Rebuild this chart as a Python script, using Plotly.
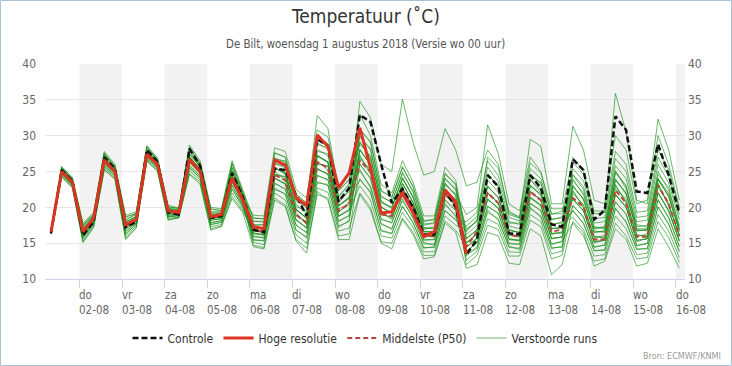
import pandas as pd
import plotly.graph_objects as go

# ---------------- data ----------------
times = pd.date_range("2018-08-01 08:00", periods=60, freq="6h")

controle = [16.4, 25.2, 23.7, 16.1, 18.0, 27.0, 25.4, 17.2, 18.0, 28.0, 26.3, 19.3, 19.0, 28.2, 25.8, 18.5, 18.8, 24.8, 21.5,
            16.9, 16.5, 25.4, 25.2, 21.7, 18.8, 29.5, 28.6, 20.8, 22.7,
            32.9, 31.9, 26.0, 20.6, 22.6, 20.0, 16.2, 16.2, 22.3, 20.0,
            13.4, 15.5, 24.5, 22.9, 16.4, 16.2, 24.5, 22.7, 17.6, 17.3,
            26.7, 25.2, 18.3, 19.6, 32.7, 30.8, 22.2, 22.0, 28.8, 24.5, 19.2]

hoge_resolutie = [16.6, 25.0, 23.5, 16.6, 18.5, 26.6, 25.0, 17.6, 18.3, 27.4, 26.0, 19.5, 19.3, 26.7, 25.0, 18.7, 19.0, 24.1, 21.0,
                  17.3, 17.0, 26.6, 25.9, 21.3, 20.3, 30.1, 28.5, 22.7, 24.8,
                  31.1, 25.5, 19.2, 19.4, 22.0, 19.2, 15.9, 16.6, 22.4, 20.8, 13.5]

middelste = [16.5, 25.0, 23.5, 16.5, 18.3, 26.3, 25.0, 17.3, 18.3, 27.3, 26.0, 19.5, 19.3, 26.5, 25.0, 18.5, 18.8, 23.8, 21.0,
             16.8, 16.6, 24.5, 23.8, 19.0, 17.8, 26.3, 25.5, 19.5, 20.5,
             26.5, 25.0, 19.0, 18.8, 22.5, 20.0, 16.0, 16.0, 21.8, 20.5,
             14.5, 16.6, 22.0, 20.6, 16.2, 15.9, 22.2, 21.0, 16.6, 16.9,
             21.3, 20.1, 15.5, 15.5, 22.4, 20.6, 15.9, 15.9, 23.1, 20.5, 16.0]

verstoorde_runs = [
    [16.5, 25.1, 23.4, 16.6, 18.2, 26.6, 25.1, 17.4, 18.2, 27.6, 26.0, 19.4, 19.1, 26.9, 25.2, 18.4, 18.7, 24.3, 21.1,
     18.1, 17.9, 26.9, 26.3, 21.1, 19.9, 29.0, 28.1, 21.6, 23.1,
     25.0, 23.0, 17.6, 17.1, 20.9, 18.6, 14.9, 14.9, 20.3, 18.9,
     15.6, 16.9, 22.9, 21.4, 16.8, 16.5, 23.0, 21.8, 17.0, 17.2,
     19.5, 17.8, 13.9, 14.1, 19.8, 18.0, 14.1, 14.3, 20.0, 17.7, 13.8],
    [16.4, 24.7, 23.2, 16.0, 17.9, 26.0, 24.6, 16.7, 17.9, 27.1, 25.6, 18.9, 18.9, 25.9, 24.4, 17.9, 18.1, 23.0, 20.4,
     15.5, 15.3, 22.7, 21.8, 16.9, 15.7, 23.6, 23.0, 17.4, 18.0,
     28.0, 26.0, 20.0, 19.2, 23.3, 20.7, 16.6, 16.6, 22.6, 21.0,
     14.4, 15.7, 21.1, 19.9, 15.6, 15.4, 21.4, 20.3, 15.6, 15.9,
     23.7, 22.0, 17.1, 17.3, 24.8, 23.0, 17.3, 17.5, 25.0, 22.4, 17.5],
    [16.6, 25.3, 23.8, 17.0, 18.7, 27.0, 25.4, 17.9, 18.7, 27.9, 26.4, 19.7, 19.5, 27.5, 25.6, 19.1, 19.1, 25.0, 21.6,
     16.9, 16.4, 25.0, 23.8, 19.3, 17.6, 26.5, 25.2, 19.8, 20.3,
     31.0, 29.0, 22.4, 21.3, 25.7, 22.8, 18.2, 18.2, 24.8, 23.1,
     13.2, 14.5, 19.3, 18.4, 14.4, 14.3, 19.8, 18.8, 14.2, 14.6,
     22.2, 20.1, 15.9, 15.8, 23.0, 20.8, 16.1, 16.0, 23.2, 20.3, 16.1],
    [16.3, 24.4, 22.9, 15.5, 17.5, 25.5, 24.2, 16.0, 17.4, 26.6, 25.3, 18.5, 18.6, 25.1, 23.8, 17.3, 17.6, 22.0, 19.8,
     16.4, 16.2, 24.1, 23.2, 18.3, 17.1, 25.4, 24.6, 18.8, 19.6,
     23.0, 21.0, 16.0, 15.7, 19.3, 17.2, 13.8, 13.8, 18.8, 17.5,
     16.8, 18.1, 24.7, 22.9, 18.0, 17.6, 24.6, 23.3, 18.4, 18.5,
     21.2, 19.5, 15.2, 15.4, 21.8, 20.0, 15.4, 15.6, 22.0, 19.6, 15.3],
    [16.7, 25.6, 24.1, 17.5, 19.1, 27.5, 25.8, 18.6, 19.2, 28.4, 26.7, 20.1, 19.8, 28.3, 26.2, 19.7, 19.6, 26.0, 22.2,
     17.2, 17.0, 25.5, 24.8, 19.7, 18.5, 27.2, 26.4, 20.2, 21.4,
     27.3, 24.6, 19.0, 18.7, 22.2, 20.2, 15.8, 16.2, 21.6, 20.5,
     13.8, 15.1, 20.2, 19.1, 15.0, 14.8, 20.6, 19.5, 14.9, 15.2,
     25.4, 23.7, 18.4, 18.6, 26.8, 25.0, 18.6, 18.8, 27.0, 24.3, 19.0],
    [16.5, 24.9, 23.3, 16.2, 18.1, 26.2, 24.8, 17.0, 18.1, 27.3, 25.8, 19.1, 19.1, 26.3, 24.7, 18.2, 18.4, 23.5, 20.7,
     14.7, 14.4, 21.3, 20.3, 15.5, 14.3, 21.8, 21.3, 16.0, 16.3,
     26.0, 24.0, 18.4, 17.8, 21.7, 19.3, 15.5, 15.5, 21.0, 19.6,
     15.1, 16.2, 22.1, 20.5, 16.3, 15.8, 22.3, 20.9, 16.4, 16.4,
     20.3, 18.6, 14.5, 14.7, 20.8, 19.0, 14.7, 14.9, 21.0, 18.6, 14.5],
    [16.5, 25.1, 23.6, 16.8, 18.5, 26.8, 25.2, 17.6, 18.5, 27.7, 26.2, 19.5, 19.3, 27.1, 25.3, 18.8, 18.8, 24.5, 21.3,
     18.9, 18.8, 28.3, 27.8, 22.5, 21.3, 30.8, 29.8, 23.0, 24.8,
     29.0, 27.0, 20.8, 19.9, 24.1, 21.4, 17.1, 17.1, 23.3, 21.7,
     12.6, 13.9, 18.4, 17.6, 13.8, 13.7, 19.0, 18.0, 13.5, 13.9,
     22.9, 21.2, 16.5, 16.7, 23.8, 22.0, 16.7, 16.9, 24.0, 21.5, 16.8],
    [16.4, 24.6, 23.1, 15.7, 17.7, 25.7, 24.4, 16.3, 17.6, 26.8, 25.5, 18.7, 18.8, 25.5, 24.1, 17.6, 17.9, 22.5, 20.1,
     16.0, 15.7, 23.4, 22.5, 17.6, 16.4, 24.5, 23.8, 18.1, 18.8,
     24.0, 22.0, 16.8, 16.4, 20.1, 17.9, 14.4, 14.4, 19.6, 18.2,
     17.4, 18.7, 25.6, 23.6, 18.6, 18.1, 25.4, 24.0, 19.1, 19.1,
     24.6, 22.9, 17.8, 18.0, 25.8, 24.0, 18.0, 18.2, 26.0, 23.4, 18.3],
    [16.7, 25.4, 23.9, 17.3, 18.9, 27.3, 25.6, 18.3, 19.0, 28.2, 26.5, 19.9, 19.6, 27.9, 25.9, 19.4, 19.3, 25.5, 21.9,
     17.6, 17.5, 26.2, 25.5, 20.4, 19.2, 28.1, 27.2, 20.9, 22.2,
     30.0, 28.0, 21.6, 20.6, 24.9, 22.1, 17.7, 17.7, 24.1, 22.4,
     16.2, 17.5, 23.8, 22.1, 17.4, 17.0, 23.8, 22.5, 17.7, 17.8,
     18.6, 16.9, 13.2, 13.4, 18.8, 17.0, 13.4, 13.6, 19.0, 16.7, 13.0],
    [16.4, 24.9, 23.6, 16.4, 18.4, 26.4, 24.9, 17.2, 18.4, 27.4, 26.1, 19.2, 19.3, 26.6, 24.9, 18.6, 18.5, 24.1, 20.9,
     15.1, 14.8, 22.0, 21.0, 16.2, 15.0, 22.7, 22.1, 16.7, 17.1,
     22.0, 20.0, 15.2, 15.0, 18.5, 16.5, 13.3, 13.3, 18.1, 16.8,
     14.5, 15.6, 21.2, 19.8, 15.5, 15.3, 21.3, 20.2, 15.7, 15.8,
     21.9, 20.4, 15.7, 16.1, 22.6, 21.2, 15.9, 16.3, 22.8, 20.6, 15.9],
    [16.3, 24.3, 22.8, 15.2, 17.3, 25.2, 24.0, 15.7, 17.2, 26.4, 25.1, 18.3, 18.5, 24.7, 23.5, 17.0, 17.4, 21.5, 19.5,
     16.7, 16.7, 24.6, 24.2, 18.8, 18.0, 26.1, 25.7, 19.3, 20.7,
     28.1, 25.9, 20.1, 19.1, 23.4, 20.6, 16.6, 16.5, 22.5, 21.1,
     12.0, 13.3, 17.5, 16.9, 13.2, 13.2, 18.2, 17.3, 12.8, 13.3,
     20.2, 18.7, 14.4, 14.8, 20.7, 19.1, 14.6, 15.0, 21.1, 18.5, 14.6],
    [16.8, 25.7, 24.2, 17.8, 19.3, 27.8, 26.0, 18.9, 19.4, 28.6, 26.9, 20.3, 19.9, 28.7, 26.5, 20.0, 19.8, 26.5, 22.5,
     18.5, 18.4, 27.6, 27.0, 21.8, 20.6, 32.8, 31.0, 22.3, 23.9,
     33.0, 30.0, 23.2, 22.0, 26.5, 23.5, 18.8, 18.8, 25.6, 23.8,
     15.6, 16.9, 22.9, 21.4, 16.8, 16.5, 23.0, 21.8, 17.0, 17.2,
     24.0, 21.7, 17.3, 17.0, 25.1, 22.6, 17.6, 17.2, 24.6, 22.8, 17.2],
    [16.4, 24.8, 23.2, 16.1, 17.9, 26.1, 24.7, 16.6, 17.8, 27.0, 25.7, 18.9, 19.0, 25.8, 24.3, 17.8, 18.2, 23.1, 20.3,
     17.3, 17.1, 25.4, 24.9, 19.6, 18.6, 27.1, 26.3, 20.1, 21.5,
     23.8, 22.2, 16.7, 16.3, 20.2, 17.8, 14.3, 14.5, 19.5, 18.3,
     18.0, 19.3, 26.5, 24.4, 19.2, 18.7, 26.2, 24.8, 19.8, 19.8,
     21.0, 19.6, 15.0, 15.5, 21.7, 20.1, 15.2, 15.7, 22.1, 19.4, 15.4],
    [16.6, 25.2, 23.6, 16.7, 18.6, 26.7, 25.2, 17.7, 18.6, 27.7, 26.2, 19.5, 19.4, 27.0, 25.4, 18.8, 18.9, 24.4, 21.4,
     15.9, 15.8, 23.3, 22.6, 17.5, 16.5, 24.4, 23.9, 18.0, 18.9,
     26.8, 25.3, 19.3, 18.3, 22.6, 19.8, 16.1, 15.8, 22.0, 20.1,
     13.9, 15.0, 20.1, 19.2, 14.9, 14.9, 20.5, 19.6, 14.8, 15.3,
     17.8, 16.0, 12.5, 12.8, 17.8, 16.0, 12.8, 13.0, 18.0, 15.8, 12.3],
    [16.6, 25.2, 23.8, 17.0, 18.7, 27.0, 25.3, 17.9, 18.8, 27.9, 26.3, 19.8, 19.4, 27.5, 25.7, 19.0, 19.1, 25.1, 21.5,
     16.3, 16.1, 24.0, 23.3, 18.2, 17.2, 25.3, 24.7, 18.7, 19.7,
     26.0, 24.1, 18.3, 17.9, 21.6, 19.4, 15.4, 15.5, 21.1, 19.5,
     15.0, 16.4, 21.9, 20.7, 16.1, 16.0, 22.1, 21.1, 16.2, 16.6,
     26.3, 24.6, 19.1, 19.3, 27.8, 26.0, 19.3, 19.5, 28.0, 25.3, 19.8],
    [16.4, 24.8, 23.4, 16.3, 18.1, 26.3, 24.8, 17.0, 18.1, 27.3, 25.8, 19.1, 19.0, 26.3, 24.7, 18.2, 18.4, 23.5, 20.7,
     17.5, 17.6, 26.0, 25.8, 20.1, 19.5, 27.8, 27.5, 20.6, 22.5,
     25.3, 22.7, 17.8, 16.9, 21.2, 18.4, 15.1, 14.7, 20.6, 18.7,
     13.4, 14.3, 19.6, 18.2, 14.6, 14.1, 20.0, 18.6, 14.4, 14.4,
     23.1, 21.0, 16.7, 16.5, 24.0, 21.8, 16.9, 16.7, 23.8, 21.7, 16.6],
    [16.3, 24.6, 23.1, 15.8, 17.7, 25.8, 24.4, 16.3, 17.7, 26.8, 25.5, 18.7, 18.8, 25.5, 24.1, 17.6, 17.9, 22.6, 20.1,
     16.6, 16.8, 24.6, 24.3, 18.9, 17.9, 26.0, 25.8, 19.3, 20.7,
     29.2, 26.8, 20.9, 19.8, 24.2, 21.3, 17.2, 17.0, 23.4, 21.6,
     15.7, 16.8, 23.0, 21.3, 16.9, 16.4, 23.1, 21.7, 17.1, 17.1,
     19.6, 17.7, 14.0, 14.0, 19.9, 17.9, 14.2, 14.2, 20.1, 17.6, 13.9],
    [16.7, 25.5, 23.8, 17.4, 18.8, 27.4, 25.5, 18.2, 19.1, 28.1, 26.7, 19.8, 19.7, 27.8, 26.0, 19.3, 19.4, 25.6, 21.8,
     15.4, 15.4, 22.5, 21.9, 16.8, 15.9, 23.4, 23.2, 17.2, 18.2,
     30.8, 29.2, 22.2, 21.5, 25.5, 23.0, 18.0, 18.4, 24.6, 23.3,
     16.6, 18.3, 24.5, 23.1, 17.8, 17.8, 24.4, 23.5, 18.2, 18.7,
     22.4, 20.0, 16.0, 15.7, 23.2, 20.6, 16.2, 15.9, 23.4, 20.2, 16.2],
    [16.5, 25.0, 23.5, 16.6, 18.3, 26.5, 25.0, 17.3, 18.3, 27.5, 26.0, 19.3, 19.2, 26.7, 25.0, 18.5, 18.6, 24.0, 21.0,
     17.2, 17.0, 25.5, 24.7, 19.7, 18.5, 27.2, 26.3, 20.2, 21.3,
     27.0, 25.0, 19.2, 18.5, 22.5, 20.0, 16.0, 16.0, 21.8, 20.3,
     15.0, 16.3, 22.0, 20.6, 16.2, 15.9, 22.2, 21.0, 16.3, 16.5,
     21.2, 19.5, 15.2, 15.4, 21.8, 20.0, 15.4, 15.6, 22.0, 19.6, 15.3],
    [16.6, 25.1, 23.7, 16.7, 18.5, 26.8, 25.2, 17.6, 18.5, 27.7, 26.2, 19.5, 19.3, 27.1, 25.3, 18.8, 18.8, 24.5, 21.3,
     16.4, 16.2, 24.1, 23.3, 18.3, 17.1, 25.4, 24.6, 18.8, 19.6,
     28.0, 26.0, 20.0, 19.2, 23.3, 20.7, 16.6, 16.6, 22.6, 21.0,
     14.4, 15.7, 21.1, 19.9, 15.6, 15.4, 21.4, 20.3, 15.6, 15.9,
     22.9, 21.2, 16.5, 16.7, 23.8, 22.0, 16.7, 16.9, 24.0, 21.5, 16.8],
    [16.5, 25.1, 23.4, 16.5, 18.4, 26.6, 24.9, 17.4, 18.2, 27.6, 25.9, 19.4, 19.1, 26.8, 24.9, 18.6, 18.5, 24.2, 20.9,
     17.1, 17.1, 25.6, 24.6, 19.8, 18.4, 27.3, 26.2, 20.3, 21.2,
     34.8, 32.5, 26.0, 25.0, 35.1, 29.0, 24.5, 25.0, 31.0, 28.0,
     23.0, 23.5, 28.0, 26.0, 19.0, 18.5, 24.0, 22.0, 17.5, 18.0,
     24.5, 22.5, 17.0, 17.2, 25.0, 23.0, 17.0, 17.0, 24.0, 22.0, 17.0],
    [16.6, 25.3, 23.7, 17.1, 18.6, 27.1, 25.2, 18.0, 18.7, 28.0, 26.2, 19.7, 19.5, 27.4, 25.8, 18.9, 19.2, 25.0, 21.6,
     18.0, 18.1, 26.7, 26.5, 20.9, 20.1, 28.8, 28.3, 21.4, 23.3,
     28.8, 27.2, 20.6, 20.1, 23.9, 21.6, 16.9, 17.3, 23.1, 21.9,
     19.0, 20.0, 31.5, 27.5, 20.5, 19.5, 27.0, 25.0, 19.0, 19.5,
     27.0, 25.0, 19.5, 19.5, 35.9, 30.5, 21.0, 20.5, 30.0, 26.0, 20.0],
    [16.7, 25.5, 24.0, 17.6, 19.0, 27.6, 25.7, 18.7, 19.1, 28.5, 26.6, 20.0, 19.9, 28.4, 26.1, 19.8, 19.5, 26.2, 22.1,
     18.5, 18.4, 27.6, 27.0, 21.8, 20.6, 29.9, 28.9, 22.3, 23.9,
     29.8, 28.2, 21.4, 20.8, 24.7, 22.3, 17.5, 17.9, 23.9, 22.6,
     17.0, 18.0, 27.0, 25.5, 19.5, 18.5, 29.5, 28.5, 20.5, 20.5,
     31.3, 28.0, 21.0, 20.5, 30.0, 28.0, 20.5, 21.0, 32.3, 28.0, 21.0],
    [16.2, 24.2, 22.7, 15.1, 17.2, 25.3, 23.9, 15.5, 17.1, 26.5, 25.0, 18.2, 18.6, 24.6, 23.2, 16.8, 17.3, 21.2, 19.3,
     14.5, 14.2, 21.0, 20.1, 15.3, 13.6, 22.2, 21.0, 15.5, 15.5,
     21.8, 19.6, 15.0, 14.2, 18.3, 16.2, 12.8, 13.1, 17.8, 16.5,
     11.5, 12.0, 16.5, 16.0, 12.2, 12.0, 17.0, 16.0, 10.6, 12.0,
     18.0, 16.5, 11.8, 12.5, 17.0, 15.5, 11.8, 12.2, 17.0, 14.5, 11.5],
]

day_names = ["do", "vr", "za", "zo", "ma", "di", "wo", "do", "vr", "za", "zo", "ma", "di", "wo", "do"]
day_dates = ["02-08", "03-08", "04-08", "05-08", "06-08", "07-08", "08-08", "09-08",
             "10-08", "11-08", "12-08", "13-08", "14-08", "15-08", "16-08"]
y_ticks = [10, 15, 20, 25, 30, 35, 40]

# ---------------- styling ----------------
FONT = "DejaVu Sans Condensed, Liberation Sans Narrow, DejaVu Sans, sans-serif"
day_starts = pd.date_range("2018-08-02", periods=15, freq="D")
x_range = [pd.Timestamp("2018-08-01 04:36"), pd.Timestamp("2018-08-16 05:12")]

fig = go.Figure()

for k, run in enumerate(verstoorde_runs):
    fig.add_trace(go.Scatter(
        x=times, y=run, mode="lines", name="Verstoorde runs",
        legendgroup="runs", showlegend=(k == 0), legendrank=4,
        line=dict(color="rgba(20,140,20,0.62)", width=1),
        hoverinfo="skip"))

fig.add_trace(go.Scatter(x=times, y=middelste, mode="lines", name="Middelste (P50)",
                         legendrank=3, line=dict(color="#b5473a", width=2, dash="5px,3px")))
fig.add_trace(go.Scatter(x=times, y=controle, mode="lines", name="Controle",
                         legendrank=1, line=dict(color="#111111", width=2.5, dash="6px,3px")))
fig.add_trace(go.Scatter(x=times[:len(hoge_resolutie)], y=hoge_resolutie, mode="lines",
                         name="Hoge resolutie", legendrank=2,
                         line=dict(color="#dd3322", width=3)))
# invisible trace to carry the right-hand axis
fig.add_trace(go.Scatter(x=times, y=middelste, yaxis="y2", mode="lines", showlegend=False,
                         hoverinfo="skip", line=dict(width=0), opacity=0))

shapes = []
for i, d in enumerate(day_starts):
    if i % 2 == 0:
        x1 = d + pd.Timedelta(days=1)
        if x1 > x_range[1]:
            x1 = x_range[1]
        shapes.append(dict(type="rect", xref="x", yref="paper", x0=d, x1=x1, y0=0, y1=1,
                           fillcolor="#f2f2f2", line=dict(width=0), layer="below"))
# outer border
shapes.append(dict(type="rect", xref="paper", yref="paper",
                   x0=-44.5 / 640, x1=1 + 46.5 / 640, y0=-86.5 / 215, y1=1 + 63.5 / 215,
                   line=dict(color="#a9c2dc", width=1), fillcolor="rgba(0,0,0,0)"))

annotations = []
for d, nm, dt in zip(day_starts, day_names, day_dates):
    annotations.append(dict(x=d, y=0, xref="x", yref="paper", xanchor="left", yanchor="top",
                            yshift=-7, xshift=-2, align="left", showarrow=False,
                            text=f"{nm}<br>{dt}", font=dict(family=FONT, size=11.5, color="#666666")))
annotations.append(dict(x=0.5, y=1 + 20 / 215, xref="paper", yref="paper", showarrow=False,
                        xanchor="center", yanchor="middle",
                        text="De Bilt, woensdag 1 augustus 2018 (Versie wo 00 uur)",
                        font=dict(family=FONT, size=11.4, color="#555555")))
annotations.append(dict(x=1 + 38 / 640, y=-(356 - 279) / 215, xref="paper", yref="paper",
                        showarrow=False, xanchor="right", yanchor="middle",
                        text="Bron: ECMWF/KNMI", font=dict(family=FONT, size=9, color="#999999")))

axis_common = dict(range=[10, 40], tickvals=y_ticks, ticks="", showline=False, zeroline=False,
                   automargin=False, tickfont=dict(family=FONT, size=12, color="#666666"))

fig.update_layout(
    width=732, height=366,
    margin=dict(l=45, r=47, t=64, b=87, autoexpand=False),
    paper_bgcolor="white", plot_bgcolor="white",
    title=dict(text="Temperatuur (˚C)", x=0.5, xanchor="center", y=1 - 16 / 366, yanchor="middle",
               font=dict(family=FONT, size=19, color="#333333")),
    xaxis=dict(type="date", range=x_range, tickvals=list(day_starts), ticktext=[""] * 15,
               ticks="outside", ticklen=8, tickcolor="#ccd6eb", showgrid=False, automargin=False,
               showline=True, linecolor="#ccd6eb", zeroline=False),
    yaxis=dict(gridcolor="#e6e6e6", ticklabelstandoff=8, **axis_common),
    yaxis2=dict(overlaying="y", side="right", showgrid=False, ticklabelstandoff=2, **axis_common),
    legend=dict(orientation="h", x=0.5, xanchor="center", y=-(338 - 279) / 215, yanchor="middle",
                font=dict(family=FONT, size=12, color="#333333"), traceorder="normal",
                bgcolor="rgba(0,0,0,0)"),
    shapes=shapes, annotations=annotations, showlegend=True,
)

fig.write_html("out.html", config={"displayModeBar": False},
               post_script="document.body.style.margin='0px';")
